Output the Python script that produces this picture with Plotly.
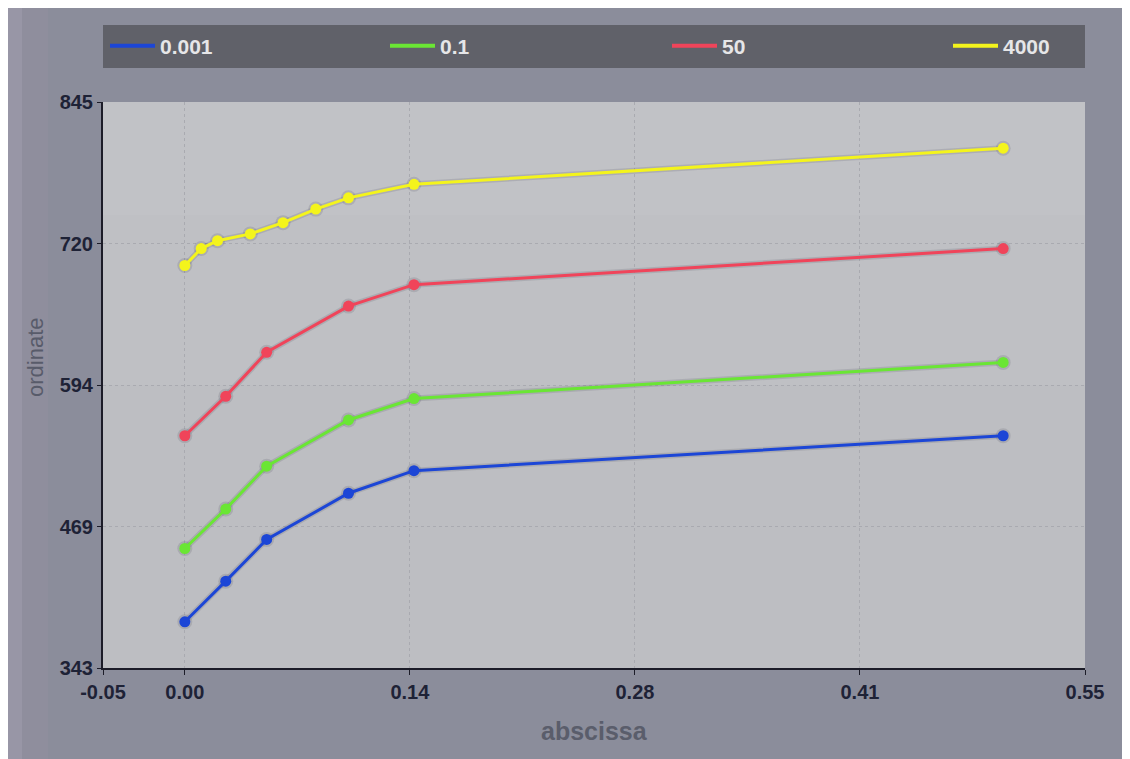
import plotly.graph_objects as go

# ---- data ----
series_names = ["0.001", "0.1", "50", "4000"]
x_main = [0.0, 0.025, 0.05, 0.1, 0.14, 0.5]
y_0001 = [384, 420, 457, 498, 518, 549]
y_01 = [449, 484, 522, 563, 582, 614]
y_50 = [549, 584, 623, 664, 683, 715]
x_4000 = [0.0, 0.01, 0.02, 0.04, 0.06, 0.08, 0.1, 0.14, 0.5]
y_4000 = [700, 715, 722, 728, 738, 750, 760, 772, 804]

x_tickvals = [-0.05, 0.0, 0.1375, 0.275, 0.4125, 0.55]
x_ticktext = ["-0.05", "0.00", "0.14", "0.28", "0.41", "0.55"]
y_tickvals = [343, 468.5, 594, 719.5, 845]
y_ticktext = ["343", "469", "594", "720", "845"]

colors = ["#1c46d6", "#6ae634", "#f0445a", "#f4f41c"]
xs = [x_main, x_main, x_main, x_4000]
ys = [y_0001, y_01, y_50, y_4000]

W, H = 1122, 751
ml, mr, mt, mb = 95, 45, 94, 91
pw = W - ml - mr
ph = H - mt - mb


def px_x(px):
    return (px - ml) / pw


def px_y(py):
    return (H - mb - py) / ph


fig = go.Figure()

legend_ids = ["legend", "legend2", "legend3", "legend4"]

for name, x, y, c in zip(series_names, xs, ys, colors):
    fig.add_trace(go.Scatter(
        x=x, y=y, mode="lines+markers", showlegend=False, hoverinfo="skip",
        line=dict(color="rgba(70,70,85,0.16)", width=6),
        marker=dict(size=15, color="rgba(70,70,85,0.16)"),
    ))
    fig.add_trace(go.Scatter(
        x=x, y=y, mode="lines+markers", name=name, showlegend=False,
        line=dict(color=c, width=3),
        marker=dict(size=11, color=c),
    ))

for name, c, lid in zip(series_names, colors, legend_ids):
    fig.add_trace(go.Scatter(
        x=[None], y=[None], mode="lines", name=name, legend=lid,
        line=dict(color=c, width=4),
    ))

shapes = [
    # lighter band on the left of the paper
    dict(type="rect", xref="paper", yref="paper", layer="below",
         x0=px_x(0), x1=px_x(14), y0=px_y(H + 5), y1=px_y(-5),
         fillcolor="#9896a6", line=dict(width=0)),
    dict(type="rect", xref="paper", yref="paper", layer="below",
         x0=px_x(14), x1=px_x(40), y0=px_y(H + 5), y1=px_y(-5),
         fillcolor="#8f8e9d", line=dict(width=0)),
    # legend box
    dict(type="rect", xref="paper", yref="paper", layer="below",
         x0=0, x1=1, y0=px_y(60), y1=px_y(17),
         fillcolor="#606169", line=dict(width=0)),
    # lighter upper part of plot area
    dict(type="rect", xref="paper", yref="paper", layer="below",
         x0=0, x1=1, y0=0.5, y1=1,
         fillcolor="rgba(255,255,255,0.04)", line=dict(width=0)),
    dict(type="rect", xref="paper", yref="paper", layer="below",
         x0=0, x1=1, y0=0.8, y1=1,
         fillcolor="rgba(255,255,255,0.04)", line=dict(width=0)),
]

legend_left_px = [97, 377, 659, 940]
legend_font = dict(family="Liberation Sans", size=21, color="#e6e6e8", weight="bold")
layout_legends = {}
for lid, lx in zip(legend_ids, legend_left_px):
    layout_legends[lid] = dict(
        orientation="h", x=px_x(lx), xanchor="left", y=px_y(38), yanchor="middle",
        bgcolor="rgba(0,0,0,0)", borderwidth=0, font=legend_font, itemwidth=45,
    )

fig.update_layout(
    width=W, height=H,
    margin=dict(l=ml, r=mr, t=mt, b=mb),
    paper_bgcolor="#8b8d9b",
    plot_bgcolor="#bdbec2",
    shapes=shapes,
    showlegend=True,
    font=dict(family="Liberation Sans"),
    annotations=[
        dict(text="ordinate", xref="paper", yref="paper", x=px_x(27), y=px_y(349),
             xanchor="center", yanchor="middle", textangle=-90, showarrow=False,
             font=dict(family="Liberation Sans", size=22, color="#585b6a")),
        dict(text="abscissa", xref="paper", yref="paper", x=0.5, y=px_y(723),
             xanchor="center", yanchor="middle", showarrow=False,
             font=dict(family="Liberation Sans", size=25, color="#5a5d6b", weight="bold")),
    ],
    **layout_legends,
)

tick_font = dict(family="Liberation Sans", size=20, color="#1e2236", weight="bold")

fig.update_xaxes(
    range=[-0.05, 0.55], tickvals=x_tickvals, ticktext=x_ticktext,
    tickfont=tick_font,
    showgrid=True, gridcolor="#a9aab0", griddash="dot", gridwidth=1,
    showline=True, linecolor="#1c1c28", linewidth=2,
    ticks="outside", ticklen=5, tickcolor="#1c1c28",
    zeroline=False,
)
fig.update_yaxes(
    range=[343, 845], tickvals=y_tickvals, ticktext=y_ticktext,
    tickfont=tick_font,
    showgrid=True, gridcolor="#a9aab0", griddash="dot", gridwidth=1,
    showline=True, linecolor="#1c1c28", linewidth=2,
    ticks="outside", ticklen=4, tickcolor="#1c1c28",
    zeroline=False,
)

fig.write_html("out.html")
